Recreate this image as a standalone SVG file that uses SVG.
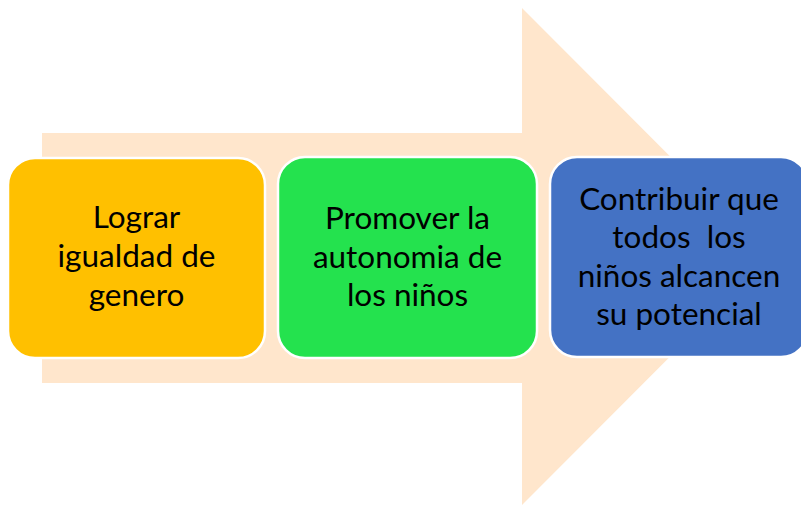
<svg xmlns="http://www.w3.org/2000/svg" width="801" height="506" viewBox="0 0 801 506">
<style>
.box{stroke:#ffffff;stroke-width:2.5}
.t{font-family:Lato,"Open Sans","Liberation Sans",sans-serif;font-size:31.5px;fill:#000000;text-anchor:middle}
</style>
<rect width="801" height="506" fill="#ffffff"/>
<g id="arrow">
<polygon points="42,133 522,133 522,8 770,256.5 522,505 522,383 42,383" fill="#FFE6CC"/>
</g>
<g id="node1">
<rect class="box" x="8" y="158" width="257" height="200" rx="27" fill="#FFC000"/>
<text class="t" x="136.5" y="228">Lograr</text>
<text class="t" x="136.5" y="267">igualdad de</text>
<text class="t" x="136.5" y="306">genero</text>
</g>
<g id="node2">
<rect class="box" x="278" y="157" width="259" height="201" rx="27" fill="#24E24E"/>
<text class="t" x="407.5" y="229">Promover la</text>
<text class="t" x="407.5" y="268">autonomia de</text>
<text class="t" x="407.5" y="306">los niños</text>
</g>
<g id="node3">
<rect class="box" x="550" y="157" width="258" height="200" rx="27" fill="#4472C4"/>
<text class="t" x="679" y="210">Contribuir que</text>
<text class="t" x="679" y="248" xml:space="preserve">todos  los</text>
<text class="t" x="679" y="287">niños alcancen</text>
<text class="t" x="679" y="325">su potencial</text>
</g>
<g id="connectors"/>
</svg>
